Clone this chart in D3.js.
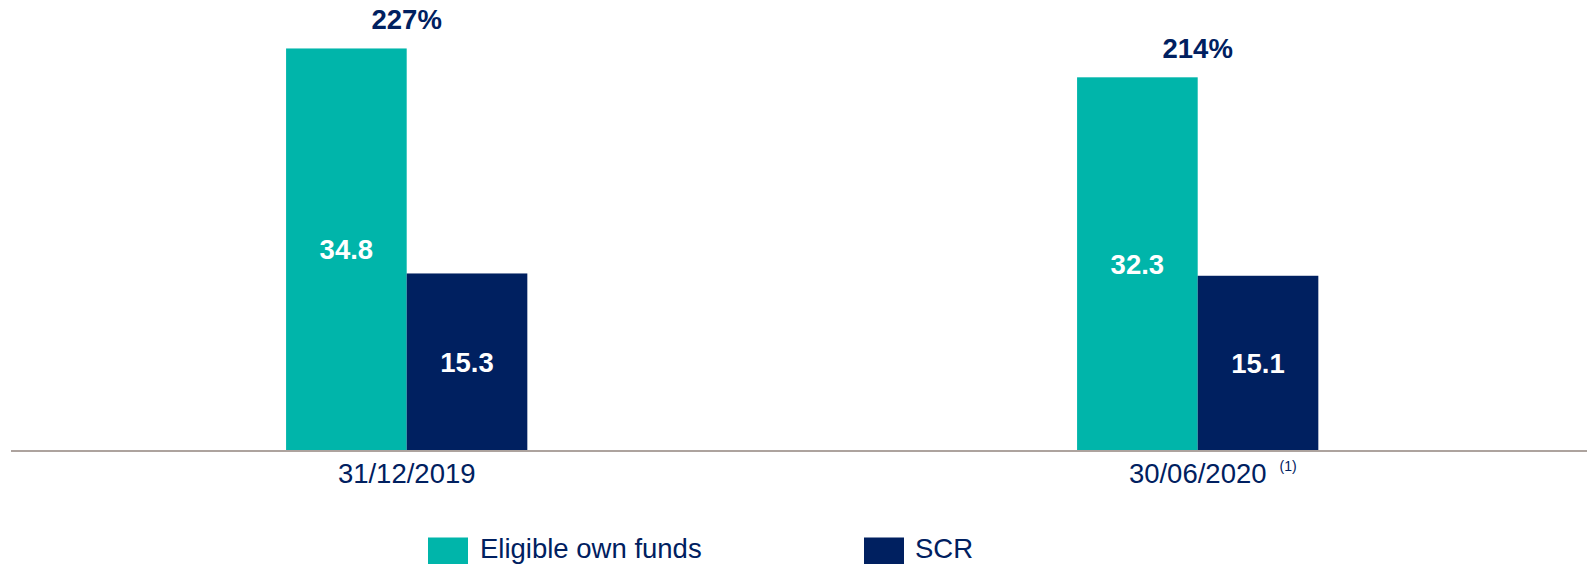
<!DOCTYPE html>
<html>
<head>
<meta charset="utf-8">
<script src="https://cdn.jsdelivr.net/npm/d3@7"></script>
<style>
  html, body { margin: 0; padding: 0; background: #ffffff; }
  svg { display: block; font-family: "Liberation Sans", Arial, sans-serif; }
</style>
</head>
<body>
<svg id="chart" width="1587" height="564"></svg>
<script>
const categories = ["31/12/2019", "30/06/2020"];
const categoryNotes = ["", "(1)"];
const seriesNames = ["Eligible own funds", "SCR"];
const eligibleOwnFunds = [34.8, 32.3];
const scr = [15.3, 15.1];
const ratios = ["227%", "214%"];
const colors = ["#00B5AA", "#002060"];

const svg = d3.select("#chart");
const W = 1587, H = 564;
const baseY = 450;
const textColor = "#002060";
const fontSize = 27.5;

const x0 = d3.scaleBand()
  .domain(categories)
  .range([11.2, 1593.2])
  .paddingInner(0.695)
  .paddingOuter(0.3475);

const x1 = d3.scaleBand()
  .domain(seriesNames)
  .range([0, x0.bandwidth()]);

const y = d3.scaleLinear()
  .domain([0, 39])
  .range([baseY, 0]);

const seriesValues = [eligibleOwnFunds, scr];
const rows = categories.map((c, i) => ({
  cat: c,
  items: seriesNames.map((s, j) => ({ series: s, value: seriesValues[j][i], color: colors[j] }))
}));

const groups = svg.selectAll("g.grp")
  .data(rows)
  .enter().append("g")
  .attr("class", "grp")
  .attr("transform", d => `translate(${x0(d.cat)},0)`);

groups.selectAll("rect")
  .data(d => d.items)
  .enter().append("rect")
  .attr("x", d => x1(d.series))
  .attr("y", d => y(d.value))
  .attr("width", x1.bandwidth())
  .attr("height", d => y(0) - y(d.value))
  .attr("fill", d => d.color);

groups.selectAll("text.val")
  .data(d => d.items)
  .enter().append("text")
  .attr("class", "val")
  .attr("x", d => x1(d.series) + x1.bandwidth() / 2)
  .attr("y", d => (y(d.value) + y(0)) / 2 + 10)
  .attr("text-anchor", "middle")
  .attr("font-size", fontSize)
  .attr("font-weight", "bold")
  .attr("fill", "#ffffff")
  .text(d => d3.format(".1f")(d.value));

// ratio labels above groups
svg.selectAll("text.ratio")
  .data(categories)
  .enter().append("text")
  .attr("class", "ratio")
  .attr("x", c => x0(c) + x0.bandwidth() / 2)
  .attr("y", (c, i) => y(eligibleOwnFunds[i]) - 19.5)
  .attr("text-anchor", "middle")
  .attr("font-size", fontSize)
  .attr("font-weight", "bold")
  .attr("fill", textColor)
  .text((c, i) => ratios[i]);

// baseline
svg.append("line")
  .attr("x1", 11).attr("x2", W)
  .attr("y1", baseY + 1).attr("y2", baseY + 1)
  .attr("stroke", "#ada39e")
  .attr("stroke-width", 2);

// category labels
const xAxis = d3.axisBottom(x0).tickSize(0).tickPadding(0);
const axisG = svg.append("g")
  .attr("transform", `translate(0,${baseY})`)
  .call(xAxis);
axisG.select(".domain").remove();
axisG.selectAll("text")
  .attr("font-family", "Liberation Sans, Arial, sans-serif")
  .attr("font-size", fontSize)
  .attr("fill", textColor)
  .attr("y", 33.3)
  .attr("dy", 0);

axisG.selectAll(".tick").each(function(c, i) {
  const note = categoryNotes[i];
  if (!note) return;
  const t = d3.select(this).select("text");
  const w = t.node().getComputedTextLength();
  d3.select(this).append("text")
    .attr("x", w / 2 + 13)
    .attr("y", 21)
    .attr("font-family", "Liberation Sans, Arial, sans-serif")
    .attr("font-size", 14)
    .attr("fill", textColor)
    .attr("text-anchor", "start")
    .text(note);
});

// legend
const legendX = [428, 864];
const legend = svg.selectAll("g.leg")
  .data(seriesNames)
  .enter().append("g")
  .attr("class", "leg")
  .attr("transform", (d, i) => `translate(${legendX[i]},537.5)`);
legend.append("rect")
  .attr("width", 40).attr("height", 28)
  .attr("fill", (d, i) => colors[i]);
legend.append("text")
  .attr("x", (d, i) => i === 0 ? 52 : 51)
  .attr("y", 20.5)
  .attr("font-size", fontSize)
  .attr("fill", textColor)
  .text(d => d);
</script>
</body>
</html>
